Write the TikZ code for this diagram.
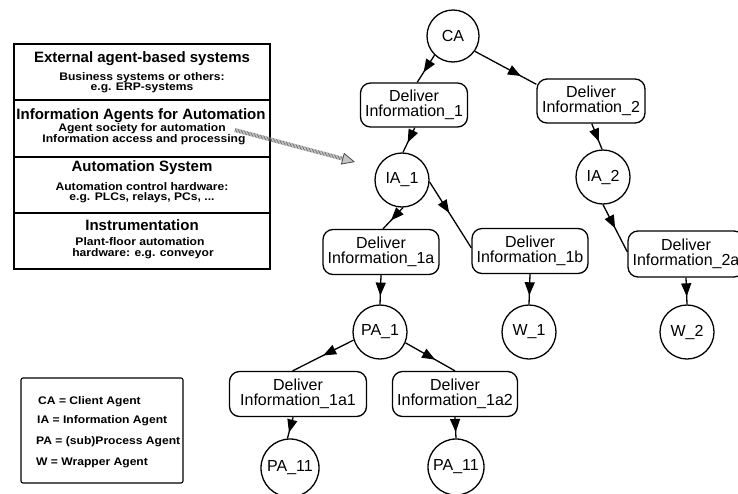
\documentclass[tikz,border=0pt]{standalone}
\usepackage{fontspec}
\setmainfont{Liberation Sans}
\newfontfamily\lbfont[FakeStretch=1.1]{Liberation Sans}
\usetikzlibrary{arrows.meta,decorations.markings}
\begin{document}
\begin{tikzpicture}[x=1pt,y=-1pt,
  every node/.style={inner sep=0pt},
  agent/.style={circle,draw,line width=1.3pt,minimum size=54pt,font=\fontsize{16}{14.5}\selectfont},
  task/.style={rectangle,rounded corners=10pt,draw,line width=1.3pt,align=center,minimum height=45pt,font=\fontsize{16}{14.5}\selectfont},
  conn/.style={line width=1.3pt,postaction={decorate},decoration={markings,mark=at position #1 with {\arrow{Triangle[length=13pt,width=10pt]}}}},
  conn/.default=0.65,
  ttl/.style={anchor=base,font=\fontsize{15}{15}\selectfont\bfseries},
  subt/.style={anchor=base,font=\lbfont\fontsize{11}{10}\selectfont\bfseries},
  leg/.style={anchor=base west,font=\lbfont\fontsize{11}{10}\selectfont\bfseries},
  frame/.style={line width=1.3pt}
]
\useasboundingbox (0,0) rectangle (738,493);

% layer stack
\draw[frame] (14,44) rectangle (270,269);
\draw[frame] (14,100) -- (270,100);
\draw[frame] (14,157) -- (270,157);
\draw[frame] (14,213) -- (270,213);

\node[ttl] (t1) at (142,62) {External agent-based systems};
\node[subt] (s11) at (142,80.7) {Business systems or others:};
\node[subt] (s12) at (142,90.7) {e.g. ERP-systems};

\node[ttl] (t2) at (141,119) {Information Agents for Automation};
\node[subt] (s21) at (142,131) {Agent society for automation};
\node[subt] (s22) at (144,142.3) {Information access and processing};

\node[ttl] (t3) at (142,171.7) {Automation System};
\node[subt] (s31) at (142,190.7) {Automation control hardware:};
\node[subt] (s32) at (142,200.7) {e.g. PLCs, relays, PCs, ...};

\node[ttl] (t4) at (142,230) {Instrumentation};
\node[subt] (s41) at (140,245) {Plant-floor automation};
\node[subt] (s42) at (143,256) {hardware: e.g. conveyor};

% hatched arrow
\coordinate (hs) at (235,130);
\coordinate (he) at (355,162);
\draw[gray!90!black, line width=4pt, dash pattern=on 0.8pt off 0.7pt,
  -{Triangle[length=13pt,width=12pt,fill=gray!45,color=gray!60!black,line width=0.8pt]}] (hs) -- (he);

% legend
\draw[line width=1.1pt, rounded corners=2pt] (21,378) rectangle (183,483);
\node[leg] (l1) at (38,404) {CA = Client Agent};
\node[leg] (l2) at (37,423.3) {IA = Information Agent};
\node[leg] (l3) at (36,444) {PA = (sub)Process Agent};
\node[leg] (l4) at (36,465) {W = Wrapper Agent};

% tree nodes
\node[agent,minimum size=52pt] (CA) at (453,36) {CA};
\node[task,minimum width=107pt,minimum height=44pt] (D1) at (414,105) {Deliver\\Information\_1};
\node[task,minimum width=108pt,minimum height=44pt] (D2) at (591,101) {Deliver\\Information\_2};
\node[agent] (IA1) at (402,180) {IA\_1};
\node[agent] (IA2) at (603,177) {IA\_2};
\node[task,minimum width=116pt] (D1a) at (381,252) {Deliver\\Information\_1a};
\node[task,minimum width=116pt] (D1b) at (530,251) {Deliver\\Information\_1b};
\node[task,minimum width=116pt,minimum height=46pt] (D2a) at (686,254) {Deliver\\Information\_2a};
\node[agent] (PA1) at (380,332) {PA\_1};
\node[agent] (W1) at (529,332) {W\_1};
\node[agent] (W2) at (687,332) {W\_2};
\node[task,minimum width=137pt] (D1a1) at (298,394) {Deliver\\Information\_1a1};
\node[task,minimum width=125pt] (D1a2) at (455,394) {Deliver\\Information\_1a2};
\node[agent,minimum size=58pt] (PA11a) at (290,468) {PA\_11};
\node[agent,minimum size=56pt] (PA11b) at (456,467) {PA\_11};

% connectors
\draw[conn=0.63] (CA.226) -- (D1.82);
\draw[conn=0.75] (CA.-35) -- (D2.163);
\draw[conn=0.6] (D1.-88) -- (IA1.88);
\draw[conn=0.7] (D2.-88) -- (IA2.92);
\draw[conn=0.6] (IA1.-88) -- (D1a.85);
\draw[conn=0.47] (IA1.-4) -- (D1b.177);
\draw[conn=0.5] (IA2.-90) -- (D2a.178);
\draw[conn=0.7] (D1a.south) -- (PA1.north);
\draw[conn=0.7] (D1b.south) -- (W1.north);
\draw[conn=0.7] (D2a.south) -- (W2.north);
\draw[conn=0.5] (PA1.197) -- (D1a1.103);
\draw[conn=0.6] (PA1.-23) -- (D1a2.north);
\draw[conn=0.72] (D1a1.-102) -- (PA11a.95);
\draw[conn=0.7] (D1a2.south) -- (PA11b.north);
\end{tikzpicture}
\end{document}
